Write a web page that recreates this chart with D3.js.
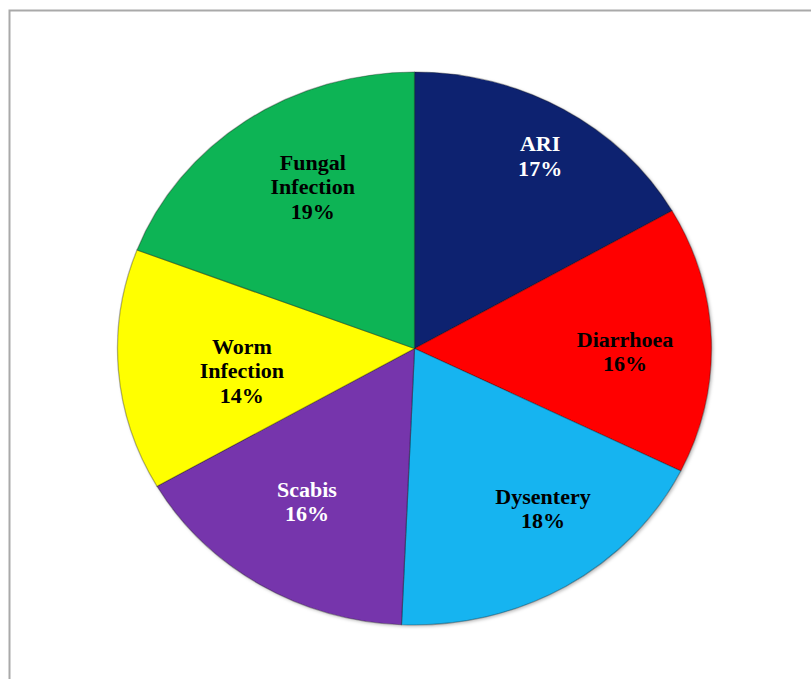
<!DOCTYPE html>
<html>
<head>
<meta charset="utf-8">
<script src="https://cdn.jsdelivr.net/npm/d3@7"></script>
<style>
  html, body { margin: 0; padding: 0; background: #ffffff; }
  svg { display: block; }
</style>
</head>
<body>
<svg id="chart" width="811" height="679"></svg>
<script>
// ---- data ----
const categories = ["ARI", "Diarrhoea", "Dysentery", "Scabis", "Worm Infection", "Fungal Infection"];
const values = [16.7, 15.6, 18.4, 16.0, 14.1, 19.2];
const labelLines = [["ARI"], ["Diarrhoea"], ["Dysentery"], ["Scabis"], ["Worm", "Infection"], ["Fungal", "Infection"]];
const colors = ["#0e2470", "#ff0000", "#18b4f0", "#7636ac", "#ffff00", "#10b455"];
const textColors = ["#ffffff", "#000000", "#000000", "#ffffff", "#000000", "#000000"];
// label placement: fraction of radius and angular nudge (degrees)
const labelRadius = [0.814, 0.709, 0.724, 0.663, 0.587, 0.677];
const labelNudge = [1.25, 2.8, -6.1, 1.8, -3.5, 4.15];

const W = 811, H = 679;
const cx = 414.5, cy = 348.5, rx = 297, ry = 276.5;
const sx = rx / ry;

const svg = d3.select("#chart");

const defs = svg.append("defs");
const f = defs.append("filter").attr("id", "shadow")
  .attr("x", "-10%").attr("y", "-10%").attr("width", "120%").attr("height", "120%");
f.append("feDropShadow").attr("dx", 1.5).attr("dy", 1.5).attr("stdDeviation", 1.5)
  .attr("flood-color", "#000").attr("flood-opacity", 0.25);

// frame
svg.append("rect")
  .attr("x", 9.5).attr("y", 10.5)
  .attr("width", 900).attr("height", 900)
  .attr("fill", "none")
  .attr("stroke", "#a9a9a9").attr("stroke-width", 2);

const g = svg.append("g")
  .attr("transform", `translate(${cx},${cy}) scale(${sx},1)`);

const pie = d3.pie().sort(null).value(d => d)(values);
const arc = d3.arc().innerRadius(0).outerRadius(ry);

g.append("g").attr("filter", "url(#shadow)")
  .selectAll("path.slice")
  .data(pie)
  .join("path")
  .attr("class", "slice")
  .attr("d", arc)
  .attr("fill", (d, i) => colors[i])
  .attr("stroke", "rgba(0,0,0,0.3)")
  .attr("stroke-width", 1.2)
  .attr("stroke-linejoin", "round");

const fontSize = 20.5, lineH = 24.5;
g.selectAll("text.lbl")
  .data(pie)
  .join("text")
  .attr("class", "lbl")
  .attr("text-anchor", "middle")
  .attr("font-family", "'Liberation Serif', 'Times New Roman', serif")
  .attr("font-weight", "bold")
  .attr("font-size", fontSize)
  .attr("fill", (d, i) => textColors[i])
  .each(function (d, i) {
    const mid = (d.startAngle + d.endAngle) / 2 + labelNudge[i] * Math.PI / 180;
    const r = labelRadius[i] * ry;
    const x = Math.sin(mid) * r;
    const y = -Math.cos(mid) * r;
    const lines = labelLines[i].concat([Math.round(values[i]) + "%"]);
    const n = lines.length;
    const t = d3.select(this);
    lines.forEach((ln, k) => {
      t.append("tspan")
        .attr("x", x)
        .attr("y", y + (k - (n - 1) / 2) * lineH + fontSize * 0.35)
        .text(ln);
    });
  });
</script>
</body>
</html>
